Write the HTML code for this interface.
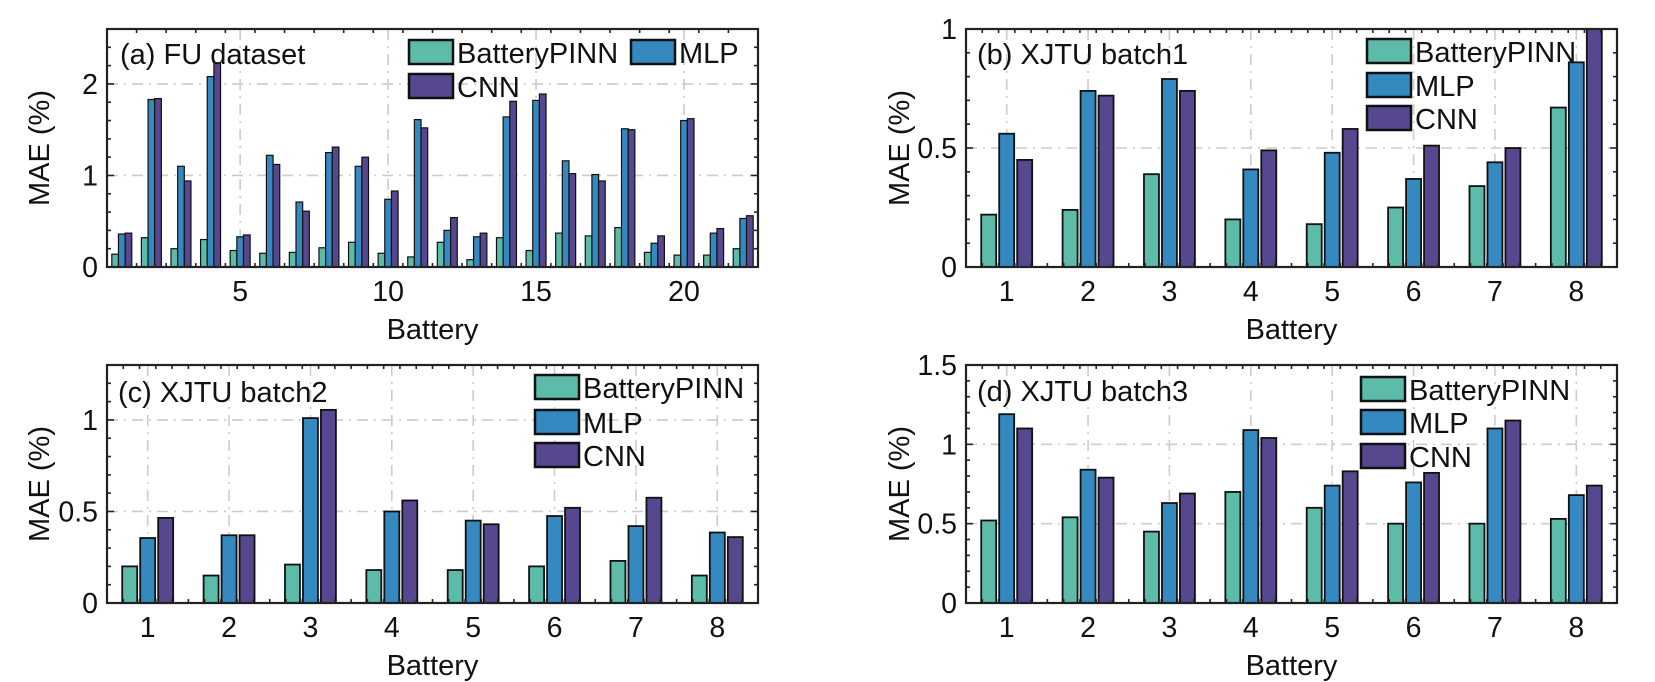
<!DOCTYPE html>
<html><head><meta charset="utf-8"><style>
html,body{margin:0;padding:0;background:#fff;}
svg{display:block;font-family:"Liberation Sans",Arial,sans-serif;}
</style></head><body>
<svg id="fig" width="1655" height="682" viewBox="0 0 1655 682" xmlns="http://www.w3.org/2000/svg"></svg>
<script>
const seriesNames = ["BatteryPINN", "MLP", "CNN"];
// (a) FU dataset
const fuBatteries = [1,2,3,4,5,6,7,8,9,10,11,12,13,14,15,16,17,18,19,20,21,22];
const fuPINN = [0.14,0.32,0.20,0.30,0.18,0.15,0.16,0.21,0.27,0.15,0.11,0.27,0.08,0.32,0.18,0.37,0.34,0.43,0.16,0.13,0.13,0.20];
const fuMLP  = [0.36,1.83,1.10,2.08,0.33,1.22,0.71,1.25,1.10,0.74,1.61,0.40,0.33,1.64,1.82,1.16,1.01,1.51,0.26,1.60,0.37,0.53];
const fuCNN  = [0.37,1.84,0.94,2.23,0.35,1.12,0.61,1.31,1.20,0.83,1.52,0.54,0.37,1.81,1.89,1.02,0.94,1.50,0.34,1.62,0.42,0.56];
const fuXTicks = [5,10,15,20];
const fuYTicks = [0,1,2];
// (b) XJTU batch1
const b1Batteries = [1,2,3,4,5,6,7,8];
const b1PINN = [0.22,0.24,0.39,0.20,0.18,0.25,0.34,0.67];
const b1MLP  = [0.56,0.74,0.79,0.41,0.48,0.37,0.44,0.86];
const b1CNN  = [0.45,0.72,0.74,0.49,0.58,0.51,0.50,1.00];
const b1YTicks = [0,0.5,1];
// (c) XJTU batch2
const b2Batteries = [1,2,3,4,5,6,7,8];
const b2PINN = [0.20,0.15,0.21,0.18,0.18,0.20,0.23,0.15];
const b2MLP  = [0.355,0.37,1.01,0.50,0.45,0.475,0.42,0.385];
const b2CNN  = [0.465,0.37,1.055,0.56,0.43,0.52,0.575,0.36];
const b2YTicks = [0,0.5,1];
// (d) XJTU batch3
const b3Batteries = [1,2,3,4,5,6,7,8];
const b3PINN = [0.52,0.54,0.45,0.70,0.60,0.50,0.50,0.53];
const b3MLP  = [1.19,0.84,0.63,1.09,0.74,0.76,1.10,0.68];
const b3CNN  = [1.10,0.79,0.69,1.04,0.83,0.82,1.15,0.74];
const b3YTicks = [0,0.5,1,1.5];
const xjtuXTicks = [1,2,3,4,5,6,7,8];

const NS = "http://www.w3.org/2000/svg";
const svg = document.getElementById("fig");
const COLORS = ["#5DBBA9", "#3489C0", "#56478F"];
function mk(parent, tag, attrs, text) {
  const e = document.createElementNS(NS, tag);
  for (const k in attrs) e.setAttribute(k, attrs[k]);
  if (text !== undefined) e.textContent = text;
  parent.appendChild(e);
  return e;
}
function fmt(v) { return String(Math.round(v * 100) / 100); }

function drawPanel(p) {
  const g = mk(svg, "g", {});
  
  
  const L = p.left, R = p.right, T = p.top, B = p.bottom;
  const sx = v => L + (v - p.xmin) / (p.xmax - p.xmin) * (R - L);
  const sy = v => B - (v - p.ymin) / (p.ymax - p.ymin) * (B - T);
  const clipId = p.id + "-clip";
  const defs = mk(g, "defs", {});
  const cp = mk(defs, "clipPath", { id: clipId });
  mk(cp, "rect", { x: L, y: T, width: R - L, height: B - T });
  const grid = mk(g, "g", { stroke: "#cccccc", "stroke-width": 1.6, "stroke-dasharray": "11,6,2,6" });
  
  
  p.xTicks.forEach(t => { const x = sx(t); mk(grid, "line", { x1: x, x2: x, y1: T, y2: B }); });
  p.yTicks.forEach(t => { const y = sy(t); if (t > p.ymin && t < p.ymax) mk(grid, "line", { x1: L, x2: R, y1: y, y2: y }); });
  const bars = mk(g, "g", { "clip-path": "url(#" + clipId + ")" });
  
  
  p.cats.forEach((c, i) => {
    p.series.forEach((arr, s) => {
      const xc = sx(c + (s - 1) * p.pitch);
      const w = sx(p.barW) - sx(0);
      const y0 = sy(0), y1 = sy(arr[i]);
      const r = mk(bars, "rect", { x: xc - w / 2, y: y1, width: w, height: y0 - y1, fill: COLORS[s], stroke: "#111", "stroke-width": p.sw });
      
      
    });
  });
  const tk = mk(g, "g", { stroke: "#222", "stroke-width": 1.6 });
  for (let v = p.xmin; v <= p.xmax + 1e-9; v += p.xMinor) {
    const x = sx(v); const major = p.xTicks.some(t => Math.abs(t - v) < 1e-6);
    const len = major ? 7 : 4;
    mk(tk, "line", { x1: x, x2: x, y1: B, y2: B - len });
    mk(tk, "line", { x1: x, x2: x, y1: T, y2: T + len });
  }
  for (let v = p.ymin; v <= p.ymax + 1e-9; v += p.yMinor) {
    const y = sy(v); const major = p.yTicks.some(t => Math.abs(t - v) < 1e-6);
    const len = major ? 7 : 4;
    mk(tk, "line", { x1: L, x2: L + len, y1: y, y2: y });
    mk(tk, "line", { x1: R, x2: R - len, y1: y, y2: y });
  }
  const fr = mk(g, "rect", { x: L, y: T, width: R - L, height: B - T, fill: "none", stroke: "#222", "stroke-width": 2.2 });
  
  
  p.xTicks.forEach(t => {
    const e = mk(g, "text", { x: sx(t), y: B + 34, "font-size": 28.5, "text-anchor": "middle", fill: "#111" }, fmt(t));
    
    
  });
  p.yTicks.forEach(t => {
    const e = mk(g, "text", { x: L - 9, y: sy(t) + 10, "font-size": 28.5, "text-anchor": "end", fill: "#111" }, fmt(t));
    
    
  });
  const xt = mk(g, "text", { x: (L + R) / 2, y: B + 72, "font-size": 29, "text-anchor": "middle", fill: "#111" }, "Battery");
  
  
  const yc = (T + B) / 2;
  const yt = mk(g, "text", { x: p.ytx, y: yc, "font-size": 29, "text-anchor": "middle", "dominant-baseline": "central", fill: "#111", transform: "rotate(-90 " + p.ytx + " " + yc + ")" }, "MAE (%)");
  
  
  const pt = mk(g, "text", { x: p.titleX, y: p.titleY, "font-size": 29, fill: "#111" }, p.title);
  
  
  const lg = mk(g, "g", {});
  
  
  p.legend.forEach((it, s) => {
    const ent = mk(lg, "g", {});
    
    
    mk(ent, "rect", { x: it[0], y: it[1], width: 44, height: 24, fill: COLORS[s], stroke: "#111", "stroke-width": 2.5 });
    mk(ent, "text", { x: it[0] + 48, y: it[1] + 23, "font-size": 29, fill: "#111" }, seriesNames[s]);
  });
}

drawPanel({ id: "fu", left: 107, right: 758, top: 29, bottom: 267, xmin: 0.5, xmax: 22.5, ymin: 0, ymax: 2.6,
  xTicks: fuXTicks, xMinor: 1, yTicks: fuYTicks, yMinor: 0.2, cats: fuBatteries, series: [fuPINN, fuMLP, fuCNN],
  pitch: 0.225, barW: 0.225, sw: 1.2, ytx: 40, title: "(a) FU dataset", titleX: 120, titleY: 64,
  legend: [[409, 40], [631, 40], [409, 74]] });
drawPanel({ id: "xjtu-b1", left: 966, right: 1617, top: 29, bottom: 267, xmin: 0.5, xmax: 8.5, ymin: 0, ymax: 1,
  xTicks: xjtuXTicks, xMinor: 0.2, yTicks: b1YTicks, yMinor: 0.1, cats: b1Batteries, series: [b1PINN, b1MLP, b1CNN],
  pitch: 0.221, barW: 0.184, sw: 1.8, ytx: 900, title: "(b) XJTU batch1", titleX: 977, titleY: 64,
  legend: [[1367, 39], [1367, 73], [1367, 106]] });
drawPanel({ id: "xjtu-b2", left: 107, right: 758, top: 365, bottom: 603, xmin: 0.5, xmax: 8.5, ymin: 0, ymax: 1.3,
  xTicks: xjtuXTicks, xMinor: 0.2, yTicks: b2YTicks, yMinor: 0.1, cats: b2Batteries, series: [b2PINN, b2MLP, b2CNN],
  pitch: 0.221, barW: 0.184, sw: 1.8, ytx: 40, title: "(c) XJTU batch2", titleX: 118, titleY: 402,
  legend: [[535, 375], [535, 410], [535, 443]] });
drawPanel({ id: "xjtu-b3", left: 966, right: 1617, top: 365, bottom: 603, xmin: 0.5, xmax: 8.5, ymin: 0, ymax: 1.5,
  xTicks: xjtuXTicks, xMinor: 0.2, yTicks: b3YTicks, yMinor: 0.1, cats: b3Batteries, series: [b3PINN, b3MLP, b3CNN],
  pitch: 0.221, barW: 0.184, sw: 1.8, ytx: 900, title: "(d) XJTU batch3", titleX: 977, titleY: 401,
  legend: [[1361, 377], [1361, 410], [1361, 444]] });
</script>
</body></html>
